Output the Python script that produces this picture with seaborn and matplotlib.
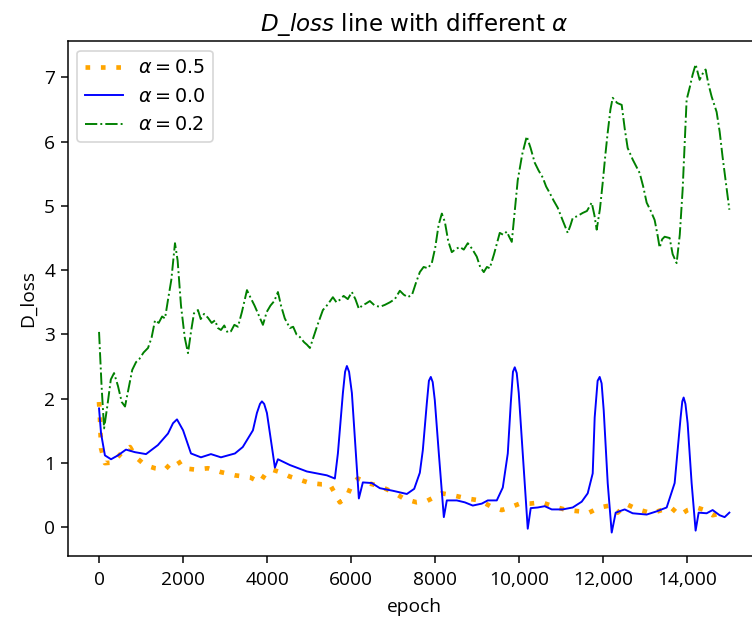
"""D_loss curves for three alpha settings."""

import matplotlib

matplotlib.use("Agg")
import matplotlib.pyplot as plt
import seaborn as sns


X_TICKS = [0, 2000, 4000, 6000, 8000, 10000, 12000, 14000]
X_TICK_LABELS = ["0", "2000", "4000", "6000", "8000", "10,000", "12,000", "14,000"]
Y_TICKS = [0, 1, 2, 3, 4, 5, 6, 7]

# alpha = 0.5 (orange, dotted)
epoch_a05 = [0, 24, 48, 140, 333, 523, 737, 880, 1094, 1332, 1570, 1760, 1879, 2000,
             2283, 2592, 2901, 3234, 3472, 3591, 3829, 3948, 4114, 4304, 4542, 4780,
             5018, 5303, 5493, 5612, 5731, 5898, 6017, 6159, 6397, 6683, 6992, 7277,
             7562, 7800, 8157, 8419, 8752, 9060, 9370, 9584, 9774, 10012, 10250,
             10535, 10797, 11130, 11439, 11629, 11914, 12152, 12342, 12556, 12818,
             13151, 13389, 13627, 13817, 14007, 14221, 14411, 14602, 14863]
loss_a05 = [1.95, 1.67, 1.23, 1.00, 1.01, 1.15, 1.25, 1.09, 0.97, 0.92, 0.90, 1.03, 1.04,
            0.92, 0.90, 0.92, 0.86, 0.81, 0.79, 0.78, 0.70, 0.82, 0.90, 0.86, 0.79, 0.74,
            0.69, 0.67, 0.67, 0.53, 0.39, 0.48, 0.67, 0.76, 0.69, 0.64, 0.55, 0.44, 0.39,
            0.41, 0.53, 0.50, 0.45, 0.42, 0.31, 0.27, 0.31, 0.37, 0.37, 0.39, 0.33, 0.27,
            0.25, 0.22, 0.31, 0.34, 0.23, 0.36, 0.28, 0.22, 0.27, 0.30, 0.19, 0.27, 0.31,
            0.27, 0.19, 0.23]

# alpha = 0.0 (blue, solid)
epoch_a00 = [0, 48, 140, 285, 450, 640, 856, 1118, 1400, 1641, 1760, 1855, 2000, 2188,
             2425, 2663, 2901, 3234, 3420, 3662, 3757, 3830, 3876, 3930, 3995, 4114,
             4185, 4257, 4542, 4946, 5422, 5612, 5684, 5803, 5855, 5898, 5950, 6017,
             6112, 6183, 6278, 6492, 6683, 6992, 7325, 7500, 7634, 7705, 7800, 7850,
             7895, 7940, 7990, 8086, 8205, 8276, 8514, 8704, 8894, 9108, 9251, 9465,
             9608, 9727, 9798, 9850, 9893, 9940, 9988, 10083, 10202, 10273, 10440,
             10606, 10773, 11034, 11272, 11486, 11629, 11748, 11795, 11865, 11914,
             11960, 12010, 12105, 12200, 12295, 12509, 12699, 13032, 13270, 13508,
             13698, 13769, 13840, 13880, 13912, 13955, 14007, 14102, 14197, 14269,
             14459, 14602, 14768, 14887, 15000]
loss_a00 = [1.85, 1.46, 1.12, 1.06, 1.12, 1.21, 1.17, 1.14, 1.28, 1.46, 1.62, 1.68, 1.51,
            1.15, 1.09, 1.14, 1.09, 1.15, 1.25, 1.51, 1.78, 1.92, 1.96, 1.92, 1.78, 1.25,
            0.93, 1.06, 0.97, 0.87, 0.81, 0.76, 1.15, 2.09, 2.42, 2.51, 2.42, 2.09, 1.15,
            0.45, 0.70, 0.69, 0.61, 0.57, 0.52, 0.60, 0.85, 1.20, 1.93, 2.28, 2.34, 2.26,
            1.98, 1.15, 0.16, 0.42, 0.42, 0.39, 0.34, 0.37, 0.42, 0.42, 0.62, 1.15, 1.93,
            2.42, 2.49, 2.40, 2.09, 1.15, -0.02, 0.30, 0.31, 0.33, 0.28, 0.28, 0.31, 0.40,
            0.53, 0.84, 1.71, 2.28, 2.34, 2.24, 1.82, 0.69, -0.08, 0.23, 0.28, 0.22, 0.20,
            0.25, 0.31, 0.69, 1.20, 1.71, 1.96, 2.02, 1.92, 1.62, 0.69, -0.05, 0.23, 0.22,
            0.27, 0.19, 0.16, 0.23]

# alpha = 0.2 (green, dash-dot)
epoch_a02 = [0, 60, 120, 200, 280, 357, 450, 540, 618, 700, 790, 880, 960, 1060, 1165,
             1250, 1332, 1420, 1500, 1570, 1641, 1720, 1807, 1870, 1950, 2040, 2117,
             2190, 2259, 2354, 2420, 2500, 2592, 2680, 2760, 2830, 2901, 2980, 3060,
             3139, 3220, 3306, 3400, 3520, 3600, 3700, 3800, 3900, 3990, 4080, 4170,
             4257, 4330, 4420, 4542, 4620, 4700, 4780, 4880, 4950, 5018, 5100, 5200,
             5327, 5420, 5500, 5565, 5650, 5731, 5820, 5920, 6017, 6100, 6183, 6260,
             6350, 6445, 6560, 6683, 6800, 6920, 7040, 7158, 7250, 7348, 7450, 7540,
             7634, 7724, 7824, 7919, 8000, 8080, 8157, 8230, 8310, 8395, 8490, 8585,
             8680, 8775, 8880, 8989, 9070, 9156, 9230, 9298, 9400, 9536, 9620, 9703,
             9760, 9822, 9890, 9964, 10070, 10178, 10270, 10369, 10460, 10559, 10640,
             10725, 10820, 10916, 11030, 11153, 11220, 11272, 11380, 11510, 11610,
             11724, 11790, 11843, 11920, 11986, 12050, 12105, 12170, 12224, 12330,
             12438, 12510, 12580, 12700, 12866, 12950, 13032, 13130, 13222, 13290,
             13341, 13400, 13460, 13579, 13650, 13745, 13820, 13888, 13940, 13983,
             14060, 14126, 14197, 14292, 14360, 14435, 14500, 14578, 14697, 14770,
             14839, 14920, 15000]
loss_a02 = [3.04, 2.20, 1.54, 1.90, 2.30, 2.40, 2.20, 1.95, 1.88, 2.15, 2.45, 2.57, 2.62,
            2.72, 2.79, 2.95, 3.22, 3.18, 3.28, 3.25, 3.54, 3.85, 4.42, 4.15, 3.45, 2.95,
            2.71, 3.05, 3.33, 3.38, 3.24, 3.32, 3.26, 3.18, 3.22, 3.10, 3.07, 3.14, 3.03,
            3.05, 3.15, 3.12, 3.35, 3.69, 3.58, 3.45, 3.30, 3.15, 3.35, 3.45, 3.52, 3.66,
            3.45, 3.25, 3.10, 3.12, 3.00, 2.96, 2.88, 2.84, 2.79, 2.95, 3.15, 3.38, 3.45,
            3.52, 3.58, 3.50, 3.54, 3.60, 3.55, 3.66, 3.55, 3.40, 3.45, 3.48, 3.52, 3.45,
            3.43, 3.46, 3.50, 3.55, 3.68, 3.62, 3.58, 3.62, 3.80, 3.97, 4.05, 4.03, 4.11,
            4.35, 4.70, 4.88, 4.75, 4.45, 4.28, 4.33, 4.36, 4.32, 4.42, 4.33, 4.21, 4.05,
            3.97, 4.05, 4.03, 4.25, 4.58, 4.55, 4.60, 4.52, 4.44, 4.90, 5.40, 5.80, 6.08,
            5.90, 5.67, 5.55, 5.44, 5.30, 5.20, 5.08, 4.97, 4.78, 4.58, 4.70, 4.81, 4.84,
            4.89, 4.92, 5.05, 4.85, 4.63, 4.95, 5.36, 5.80, 6.14, 6.50, 6.68, 6.60, 6.57,
            6.20, 5.90, 5.72, 5.51, 5.30, 5.05, 4.92, 4.78, 4.55, 4.35, 4.48, 4.52, 4.50,
            4.25, 4.11, 4.55, 5.25, 6.00, 6.65, 6.85, 7.04, 7.20, 6.96, 7.05, 7.12, 6.90,
            6.70, 6.46, 6.15, 5.76, 5.35, 4.94]


def main() -> None:
    plt.rcParams["font.family"] = ["Open Sans", "DejaVu Sans"]
    plt.rcParams["mathtext.fontset"] = "dejavusans"
    plt.rcParams["font.size"] = 11.5
    plt.rcParams["axes.titlesize"] = 13.8
    plt.rcParams["axes.linewidth"] = 0.9
    plt.rcParams["axes.labelpad"] = 5.5
    plt.rcParams["xtick.major.pad"] = 5.0
    for axis in ("xtick", "ytick"):
        plt.rcParams[f"{axis}.major.size"] = 4.0
        plt.rcParams[f"{axis}.major.width"] = 0.9

    fig = plt.figure(figsize=(752 / 120, 617 / 120), dpi=120)
    ax = fig.add_axes([0.0898, 0.0989, 0.922, 0.8347])

    sns.lineplot(x=epoch_a05, y=loss_a05, ax=ax, color="orange", linewidth=2.8,
                 linestyle=(0, (1, 2.3)), label=r"$\alpha=0.5$")
    sns.lineplot(x=epoch_a00, y=loss_a00, ax=ax, color="blue", linewidth=1.15,
                 label=r"$\alpha=0.0$")
    sns.lineplot(x=epoch_a02, y=loss_a02, ax=ax, color="green", linewidth=1.15,
                 linestyle="-.", label=r"$\alpha=0.2$")

    ax.set_xticks(X_TICKS)
    ax.set_xticklabels(X_TICK_LABELS)
    ax.set_yticks(Y_TICKS)
    ax.set_xlabel("epoch")
    ax.set_ylabel("D_loss", labelpad=4.0)
    ax.set_title(r"$D\_loss$ line with different $\alpha$", family="DejaVu Sans")
    ax.legend(loc="upper left", prop={"family": "DejaVu Sans", "size": 11.5})

    fig.savefig("out.png", dpi=120)
    plt.close(fig)


if __name__ == "__main__":
    main()
